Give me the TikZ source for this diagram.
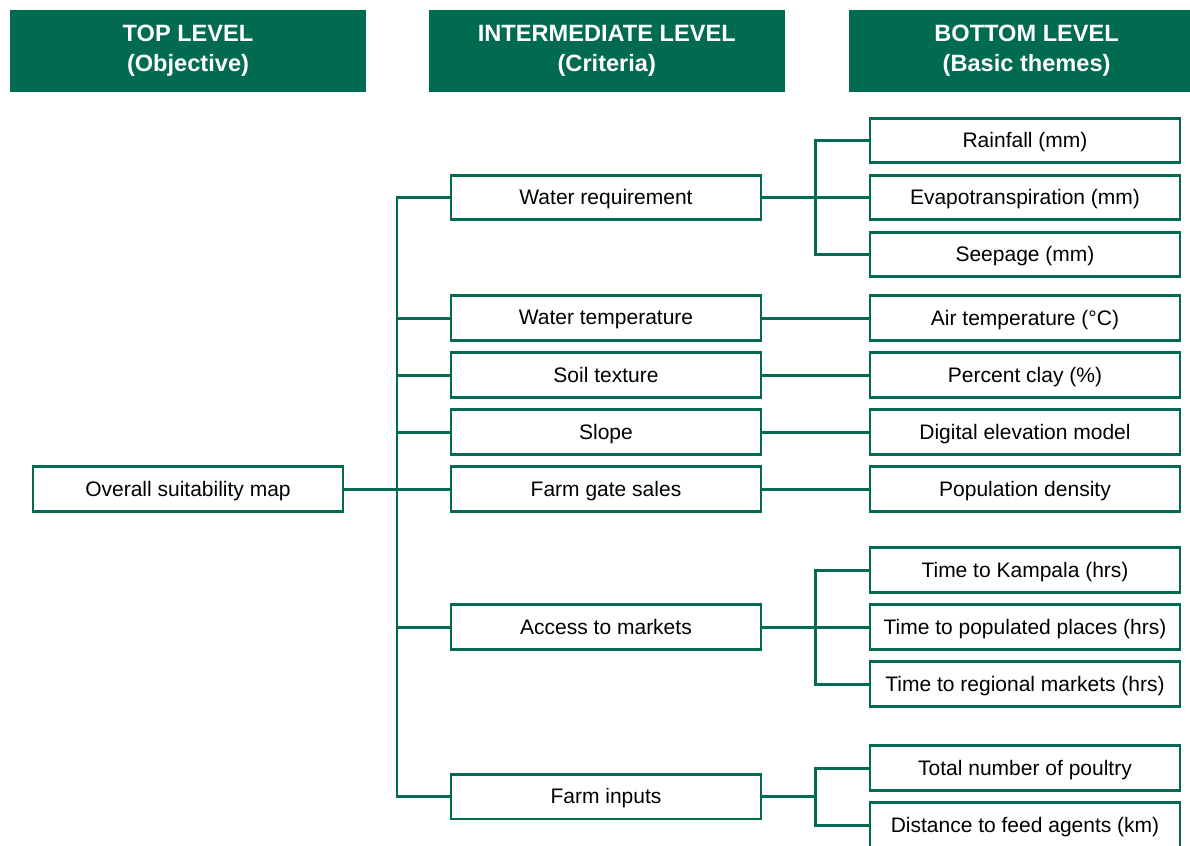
\documentclass[tikz,border=0pt]{standalone}
\usepackage{fontspec}
\setmainfont{Liberation Sans}
\usepackage{xcolor}
\usetikzlibrary{positioning, calc}
\definecolor{hgreen}{RGB}{0,107,80}

\begin{document}
\begin{tikzpicture}[
  node distance=4.8pt,
  head/.style={rectangle, fill=hgreen, text=white, minimum width=178pt,
               minimum height=41pt, align=center, inner sep=0pt,
               font=\fontsize{11.8}{15}\selectfont\bfseries},
  box/.style={rectangle, draw=hgreen, line width=1.4pt, fill=white,
              minimum width=155pt, minimum height=22.3pt, inner sep=2pt,
              text depth=0.5pt, font=\fontsize{10.5}{12.5}\selectfont},
  link/.style={draw=hgreen, line width=1.4pt}
]
  \useasboundingbox (0,0) rectangle (595pt,-423pt);
  % column headers
  \node[head] (hobj) at (94pt,-25.5pt) {TOP LEVEL\\(Objective)};
  \node[head, right=31pt of hobj]    (hcrit) {INTERMEDIATE LEVEL\\(Criteria)};
  \node[head, right=31.5pt of hcrit] (hbase) {BOTTOM LEVEL\\(Basic themes)};

  % basic themes
  \node[box] (rain) at (512.5pt,-70.25pt) {Rainfall (mm)};
  \node[box, below=of rain]        (evap)   {Evapotranspiration (mm)};
  \node[box, below=of evap]        (seep)   {Seepage (mm)};
  \node[box, below=8.1pt of seep]  (air)    {Air temperature (°C)};
  \node[box, below=of air]         (clay)   {Percent clay (\%)};
  \node[box, below=of clay]        (dem)    {Digital elevation model};
  \node[box, below=of dem]         (pop)    {Population density};
  \node[box, below=16.8pt of pop]  (kamp)   {Time to Kampala (hrs)};
  \node[box, below=of kamp]        (place)  {Time to populated places (hrs)};
  \node[box, below=of place]       (region) {Time to regional markets (hrs)};
  \node[box, below=18.3pt of region] (poult) {Total number of poultry};
  \node[box, below=of poult]       (feed)   {Distance to feed agents (km)};

  % criteria
  \node[box, left=53.1pt of evap]  (water)  {Water requirement};
  \node[box, left=53.1pt of air]   (wtemp)  {Water temperature};
  \node[box, left=53.1pt of clay]  (soil)   {Soil texture};
  \node[box, left=53.1pt of dem]   (slope)  {Slope};
  \node[box, left=53.1pt of pop]   (gate)   {Farm gate sales};
  \node[box, left=53.1pt of place] (market) {Access to markets};
  \coordinate (fin) at ($(poult.west)!0.5!(feed.west)$);
  \node[box, left=53.1pt of fin]   (inputs) {Farm inputs};

  % objective
  \node[box, left=52.6pt of gate] (overall) {Overall suitability map};

  % objective to criteria
  \coordinate (trunk) at ($(overall.east)!0.5!(gate.west)$);
  \draw[link] (overall) -- (gate);
  \draw[link] (water.west) -| (trunk) |- (inputs.west);
  \foreach \n in {wtemp, soil, slope, market}
    \draw[link] (\n.west) -- (\n.west -| trunk);

  % criteria to basic themes
  \draw[link] (water)  -- (evap);
  \draw[link] (wtemp)  -- (air);
  \draw[link] (soil)   -- (clay);
  \draw[link] (slope)  -- (dem);
  \draw[link] (gate)   -- (pop);
  \draw[link] (market) -- (place);
  \coordinate (fwater)  at ($(water.east)!0.5!(evap.west)$);
  \coordinate (fmarket) at ($(market.east)!0.5!(place.west)$);
  \coordinate (finput)  at ($(inputs.east)!0.5!(fin)$);
  \draw[link] (rain.west) -| (fwater) |- (seep.west);
  \draw[link] (kamp.west) -| (fmarket) |- (region.west);
  \draw[link] (inputs.east) -- (finput);
  \draw[link] (poult.west) -| (finput) |- (feed.west);
\end{tikzpicture}
\end{document}
